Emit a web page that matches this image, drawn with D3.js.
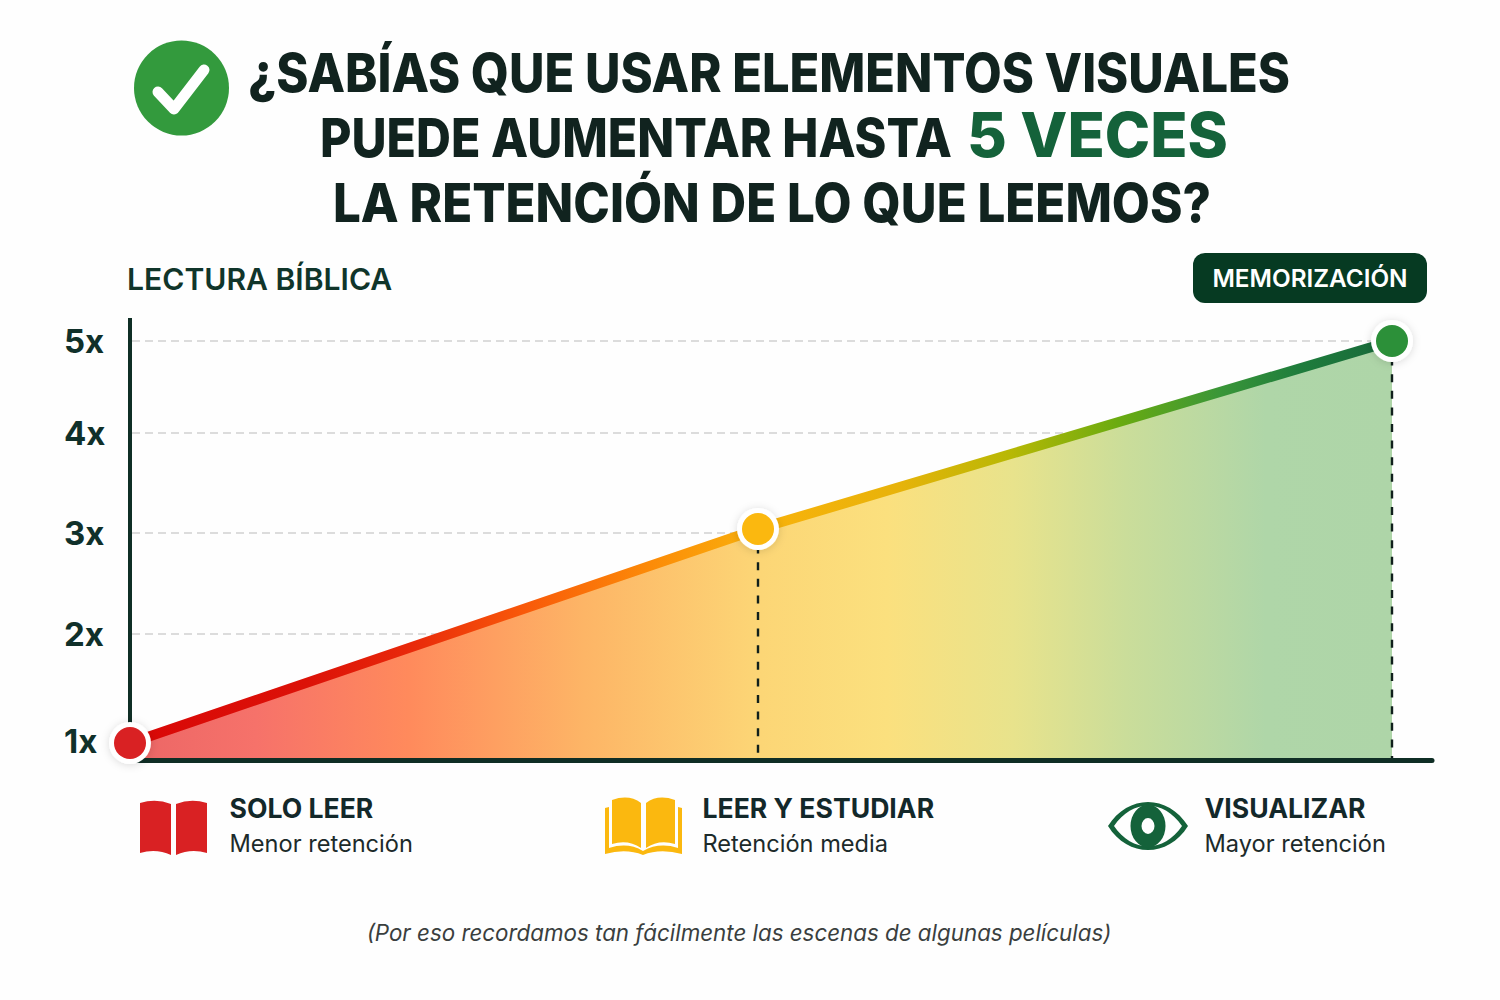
<!DOCTYPE html>
<html lang="es">
<head>
<meta charset="utf-8">
<title>Retención de lectura</title>
<script src="https://cdn.jsdelivr.net/npm/d3@7"></script>
<style>
  html, body { margin: 0; padding: 0; background: #fefefe; }
  svg { display: block; font-family: Inter, sans-serif; }
</style>
</head>
<body>
<svg id="chart" width="1500" height="1000"></svg>
<script>
// Retention stages and how many times each one multiplies what is remembered
const stageNames = ["SOLO LEER", "LEER Y ESTUDIAR", "VISUALIZAR"];
const stageNotes = ["Menor retención", "Retención media", "Mayor retención"];
const retention = [1, 3.04, 5];
const stageColors = ["#d92123", "#fbb80f", "#2c9039"];
const tickValues = [1, 2, 3, 4, 5];
const gridValues = [2, 3, 4, 5];
const tickLabel = d => d + "x";

const svg = d3.select("#chart");
const defs = svg.append("defs");

// The vertical axis is drawn with slightly uneven steps between multipliers
const x = d3.scaleLinear().domain([0, 1, 2]).range([130, 758, 1392]);
const y = d3.scaleLinear().domain(tickValues).range([743, 634, 533, 433, 341]);
const baseY = 760.5;

const gradient = (id, stops) => {
  const g = defs.append("linearGradient").attr("id", id)
    .attr("gradientUnits", "userSpaceOnUse")
    .attr("x1", x(0)).attr("x2", x(2)).attr("y1", 0).attr("y2", 0);
  g.selectAll("stop").data(stops).join("stop")
    .attr("offset", d => d[0]).attr("stop-color", d => d[1]);
};
gradient("areaFill", [
  [0, "#ec6666"], [0.1, "#f6726a"], [0.22, "#ff8a5c"], [0.36, "#fdb566"],
  [0.5, "#fcd676"], [0.6, "#fbe07e"], [0.7, "#e8e38c"], [0.79, "#cadd9a"],
  [0.9, "#afd6a8"], [1, "#aed5a8"]
]);
gradient("lineFill", [
  [0, "#d90707"], [0.14, "#dc1208"], [0.22, "#e8280a"], [0.31, "#f8580a"],
  [0.41, "#fc8a08"], [0.5, "#f9b20b"], [0.607, "#e8b30a"], [0.697, "#b8b805"],
  [0.783, "#6aab10"], [0.864, "#3a9638"], [0.925, "#1f7d3c"], [1, "#17683a"]
]);

const shadow = defs.append("filter").attr("id", "halo")
  .attr("x", "-50%").attr("y", "-50%").attr("width", "200%").attr("height", "200%");
shadow.append("feDropShadow").attr("dx", 0).attr("dy", 1).attr("stdDeviation", 4)
  .attr("flood-color", "#000").attr("flood-opacity", 0.14);

// Headline with its check badge
svg.append("circle").attr("cx", 181.5).attr("cy", 88).attr("r", 47.5).attr("fill", "#339a3d");
svg.append("path").attr("d", "M158 92 L174 109 L204 70")
  .attr("fill", "none").attr("stroke", "#fff").attr("stroke-width", 11)
  .attr("stroke-linecap", "round").attr("stroke-linejoin", "round");

const headline = svg.append("g").attr("fill", "#11231f").attr("font-weight", 800).attr("font-size", 54);
const fitted = (parent, text, left, right, base) => parent.append("text")
  .attr("x", left).attr("y", base)
  .attr("textLength", right - left).attr("lengthAdjust", "spacingAndGlyphs").text(text);
fitted(headline, "¿SABÍAS QUE USAR ELEMENTOS VISUALES", 248, 1290, 92);
fitted(headline, "PUEDE AUMENTAR HASTA", 320, 952, 157);
fitted(headline, "LA RETENCIÓN DE LO QUE LEEMOS?", 333, 1211, 222);
fitted(headline, "5 VECES", 967, 1228, 157)
  .attr("fill", "#14623a").attr("font-size", 62);

// Corner labels
svg.append("text").attr("x", 127).attr("y", 290).attr("font-size", 30.1).attr("font-weight", 600)
  .attr("fill", "#10352a").text("LECTURA BÍBLICA");
svg.append("rect").attr("x", 1193).attr("y", 253).attr("width", 234).attr("height", 50)
  .attr("rx", 12).attr("fill", "#063a22");
svg.append("text").attr("x", 1310).attr("y", 287).attr("text-anchor", "middle")
  .attr("font-size", 24.3).attr("font-weight", 600).attr("fill", "#fff").text("MEMORIZACIÓN");

// Grid lines
svg.append("g").selectAll("line").data(gridValues).join("line")
  .attr("x1", x(0) + 2).attr("x2", x(2))
  .attr("y1", d => y(d)).attr("y2", d => y(d))
  .attr("stroke", "#dcdcdc").attr("stroke-width", 2).attr("stroke-dasharray", "8 5");

// Filled area and rising line
const points = retention.map((v, i) => [i, v]);
svg.append("path").datum(points)
  .attr("d", d3.area().x(d => x(d[0])).y0(baseY).y1(d => y(d[1])))
  .attr("fill", "url(#areaFill)");

// Drop lines under the later stages
svg.append("g").selectAll("line").data(points.slice(1)).join("line")
  .attr("x1", d => x(d[0])).attr("x2", d => x(d[0]))
  .attr("y1", d => y(d[1])).attr("y2", baseY)
  .attr("stroke", "#10201c").attr("stroke-width", 2.4).attr("stroke-dasharray", "8 8.6");

svg.append("path").datum(points)
  .attr("d", d3.line().x(d => x(d[0])).y(d => y(d[1])))
  .attr("fill", "none").attr("stroke", "url(#lineFill)").attr("stroke-width", 10);

// Axes
svg.append("line").attr("x1", x(0)).attr("x2", x(0)).attr("y1", 318).attr("y2", y(1))
  .attr("stroke", "#0f2e25").attr("stroke-width", 4);
svg.append("line").attr("x1", x(0)).attr("x2", 1432).attr("y1", baseY).attr("y2", baseY)
  .attr("stroke", "#0f2e25").attr("stroke-width", 5).attr("stroke-linecap", "round");

const yAxis = svg.append("g").attr("transform", "translate(64,0)")
  .call(d3.axisLeft(y).tickValues(tickValues).tickFormat(tickLabel).tickSize(0));
yAxis.select(".domain").remove();
yAxis.selectAll("text")
  .attr("x", 0).attr("dy", d => d === 1 ? "0.3em" : "0.36em").attr("text-anchor", "start")
  .attr("font-family", "Inter, sans-serif").attr("font-size", 33).attr("font-weight", 700)
  .attr("fill", "#10302a");

// Stage markers
const markers = svg.append("g").selectAll("g").data(points).join("g")
  .attr("transform", d => `translate(${x(d[0])},${y(d[1])})`);
markers.append("circle").attr("r", 21).attr("fill", "#fff").attr("filter", "url(#halo)");
markers.append("circle").attr("r", 16).attr("fill", (d, i) => stageColors[i]);

// Legend icons
const icons = svg.append("g");
icons.append("path").attr("fill", "#d92123")
  .attr("d", "M140 803 Q156 798 171 804 L171 855 Q156 848 140 853 Z M176 804 Q191 798 207 803 L207 853 Q191 848 176 855 Z");
icons.append("path").attr("fill", "#fbb80f")
  .attr("d", "M612 800 Q629 794 641 803 L641 848 Q628 839 612 844 Z M646 803 Q658 794 675 800 L675 844 Q659 839 646 848 Z M605 808 L609 807 L609 848 Q628 842 643 851 Q659 842 678 848 L678 807 L682 808 L682 854 Q660 848 643 855 Q626 848 605 854 Z");
icons.append("path").attr("fill", "#14623a").attr("fill-rule", "evenodd")
  .attr("d", "M1108 826 C1128 794 1168 794 1188 826 C1168 858 1128 858 1108 826 Z M1114 826 C1132 799 1164 799 1182 826 C1164 853 1132 853 1114 826 Z");
icons.append("path").attr("fill", "#14623a").attr("fill-rule", "evenodd")
  .attr("d", d3.arc()({ innerRadius: 6.5, outerRadius: 17.5, startAngle: 0, endAngle: 2 * Math.PI }))
  .attr("transform", "translate(1148,826) scale(1,1.22)");

// Legend text
const legendX = d3.scaleLinear().domain([0, 1, 2]).range([229.5, 702.5, 1204.5]);
const legend = svg.append("g").selectAll("g").data(stageNames).join("g");
legend.append("text").attr("x", (d, i) => legendX(i)).attr("y", 818)
  .attr("font-size", 26.6).attr("font-weight", 700).attr("fill", "#13282a").text(d => d);
legend.append("text").attr("x", (d, i) => legendX(i)).attr("y", 852)
  .attr("font-size", 23.6).attr("font-weight", 400).attr("fill", "#1c2a2a").text((d, i) => stageNotes[i]);

// Closing note
svg.append("text").attr("x", 739).attr("y", 941).attr("text-anchor", "middle")
  .attr("font-size", 22.35).attr("font-style", "italic").attr("fill", "#3a3f3e")
  .text("(Por eso recordamos tan fácilmente las escenas de algunas películas)");
</script>
</body>
</html>
